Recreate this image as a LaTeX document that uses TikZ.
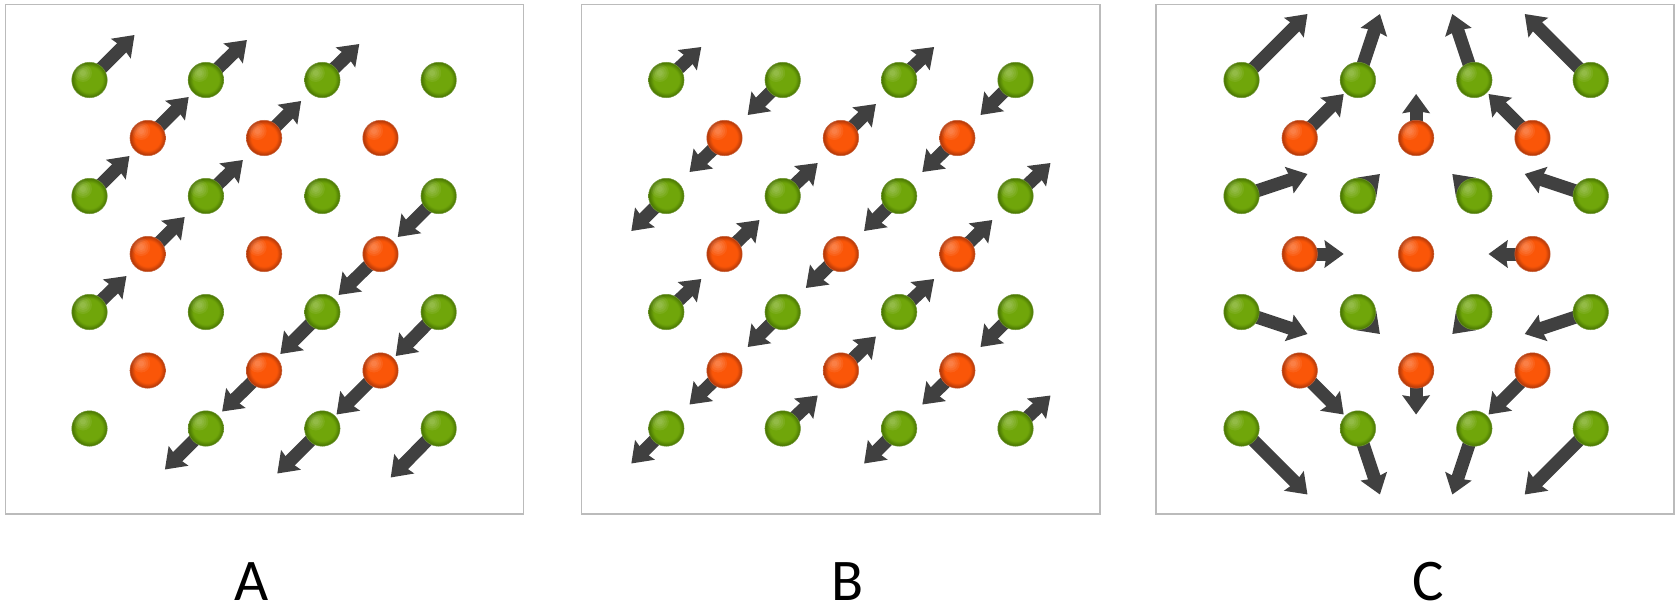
\documentclass[tikz,border=0pt]{standalone}
\usepackage{fontspec}
\setmainfont{Carlito}
\usetikzlibrary{arrows.meta,backgrounds,calc}

\definecolor{atomGreen}{HTML}{70A60A}
\definecolor{atomGreenRim}{HTML}{4C7A02}
\definecolor{atomRed}{HTML}{FA5608}
\definecolor{atomRedRim}{HTML}{B83A08}
\definecolor{spinGrey}{HTML}{404040}
\definecolor{frameGrey}{HTML}{BBBBBB}

% Atom shading: flat body with a darker rim
\pgfdeclareradialshading{greenatom}{\pgfpoint{0bp}{1bp}}{%
  color(0bp)=(atomGreen);
  color(18bp)=(atomGreen);
  color(24bp)=(atomGreenRim);
  color(50bp)=(atomGreenRim)}
\pgfdeclareradialshading{redatom}{\pgfpoint{0bp}{1bp}}{%
  color(0bp)=(atomRed);
  color(18bp)=(atomRed);
  color(24bp)=(atomRedRim);
  color(50bp)=(atomRedRim)}

\tikzset{
  panelframe/.style={draw=frameGrey,line width=1.4pt,fill=white},
  % soft highlight towards the upper left of each atom
  atomnode/.style={circle,inner sep=0pt,minimum size=35.5pt,
    path picture={
      \foreach \r in {9,7,5,3}
        \fill[white,opacity=.07] ($(path picture bounding box.center)+(-6.5,-7)$) circle (\r pt);
    }},
  gatom/.style={atomnode,shading=greenatom,draw=atomGreenRim!80!white,line width=.5pt},
  ratom/.style={atomnode,shading=redatom,draw=atomRedRim!80!white,line width=.5pt},
  spinarrow/.style={draw=spinGrey,line width=13pt,
    -{Stealth[inset=2pt,length=19pt,width=27pt,fill=spinGrey]}},
  panellabel/.style={font=\fontsize{59}{59}\selectfont,text=black,inner sep=0pt},
}

% One row of atoms: prefix, row number, style, first x, y, list of displacements dx/dy
\newcommand{\atomrow}[6]{%
  \foreach \dx/\dy [count=\i] in {#6} {
    \node[#3] (#1-#2-\i) at ({#4+116.4*(\i-1)},#5) {};
    \ifnum\numexpr\dx*\dx+\dy*\dy\relax>0
      \coordinate (#1-#2-\i-tip) at ($(#1-#2-\i.center)+(\dx,\dy)$);
      \begin{scope}[on background layer]
        \draw[spinarrow] (#1-#2-\i.center) -- (#1-#2-\i-tip);
      \end{scope}
    \fi
  }%
}

\begin{document}
\begin{tikzpicture}[x=1pt,y=-1pt]
\useasboundingbox (0,0) rectangle (1675,610);
\begin{scope}[on background layer]
  \fill[white] (0,0) rectangle (1675,610);
  \draw[panelframe] (5.5,4.5) rectangle (523.5,514);
  \draw[panelframe] (581.5,4.5) rectangle (1100,514);
  \draw[panelframe] (1156,4.5) rectangle (1674,514);
\end{scope}

% Panel A
\atomrow{a}{1}{gatom}{89.5}{80}{45/-45,41/-40,37/-36,0/0}
\atomrow{a}{2}{ratom}{147.7}{138}{41/-41,37/-37,0/0}
\atomrow{a}{3}{gatom}{89.5}{196}{40/-40,37/-36,0/0,-41/41}
\atomrow{a}{4}{ratom}{147.7}{254}{37/-37,0/0,-42/41}
\atomrow{a}{5}{gatom}{89.5}{312}{37/-36,0/0,-42/42,-43/44}
\atomrow{a}{6}{ratom}{147.7}{370.5}{0/0,-42/41,-44/44}
\atomrow{a}{7}{gatom}{89.5}{428.5}{0/0,-41/41,-45/45,-48/49}

% Panel B
\atomrow{b}{1}{gatom}{666.3}{80}{35/-33,-35/35,35/-33,-35/35}
\atomrow{b}{2}{ratom}{724.5}{138}{-35/34,35/-34,-35/34}
\atomrow{b}{3}{gatom}{666.3}{196}{-35/35,35/-33,-35/35,35/-33}
\atomrow{b}{4}{ratom}{724.5}{254}{35/-34,-35/34,35/-34}
\atomrow{b}{5}{gatom}{666.3}{312}{35/-33,-35/35,35/-33,-35/35}
\atomrow{b}{6}{ratom}{724.5}{370.5}{-35/34,35/-34,-35/34}
\atomrow{b}{7}{gatom}{666.3}{428.5}{-35/35,35/-33,-35/35,35/-33}

% Panel C
\atomrow{c}{1}{gatom}{1241.5}{80}{66/-66,22/-66,-22/-66,-66/-66}
\atomrow{c}{2}{ratom}{1299.7}{138}{44/-44,0/-44,-44/-44}
\atomrow{c}{3}{gatom}{1241.5}{196}{66/-22,22/-22,-22/-22,-66/-22}
\atomrow{c}{4}{ratom}{1299.7}{254}{44/0,0/0,-44/0}
\atomrow{c}{5}{gatom}{1241.5}{312}{66/22,22/22,-22/22,-66/22}
\atomrow{c}{6}{ratom}{1299.7}{370.5}{44/44,0/44,-44/44}
\atomrow{c}{7}{gatom}{1241.5}{428.5}{66/66,22/66,-22/66,-66/66}

\node[panellabel] (labelA) at (252,582) {A};
\node[panellabel] (labelB) at (848,582) {B};
\node[panellabel] (labelC) at (1428.5,582) {C};
\end{tikzpicture}
\end{document}
